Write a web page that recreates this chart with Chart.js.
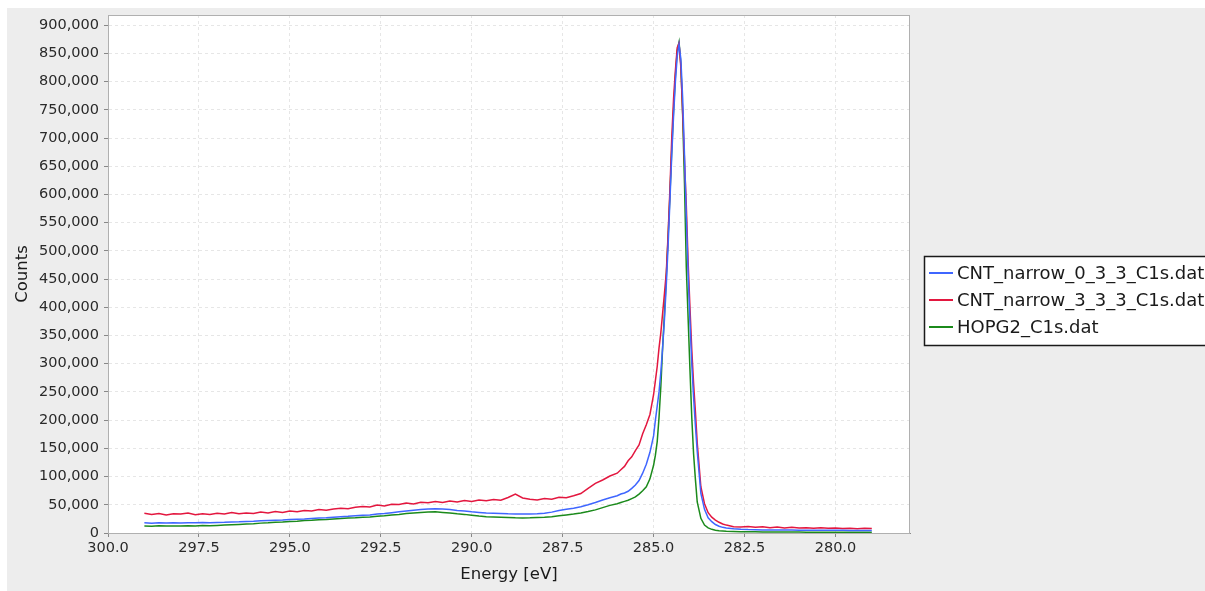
<!DOCTYPE html>
<html>
<head>
<meta charset="utf-8">
<script src="https://cdn.jsdelivr.net/npm/chart.js@4.4.1/dist/chart.umd.min.js"></script>
<style>
  html, body { margin: 0; padding: 0; background: #fff; overflow: hidden; }
  #wrap { width: 1205px; height: 591px; }
</style>
</head>
<body>
<div id="wrap"><canvas id="xpsChart" width="1205" height="591"></canvas></div>
<script>
// binding energy grid (eV), finer around the C1s peak
const energies = [
  299.0, 298.8, 298.6, 298.4, 298.2, 298.0, 297.8, 297.6, 297.4, 297.2,
  297.0, 296.8, 296.6, 296.4, 296.2, 296.0, 295.8, 295.6, 295.4, 295.2,
  295.0, 294.8, 294.6, 294.4, 294.2, 294.0, 293.8, 293.6, 293.4, 293.2,
  293.0, 292.8, 292.6, 292.4, 292.2, 292.0, 291.8, 291.6, 291.4, 291.2,
  291.0, 290.8, 290.6, 290.4, 290.2, 290.0, 289.8, 289.6, 289.4, 289.2,
  289.0, 288.8, 288.6, 288.4, 288.2, 288.0, 287.8, 287.6, 287.4, 287.2,
  287.0, 286.8, 286.6, 286.4, 286.2,
  286.0, 285.9, 285.8, 285.7, 285.6, 285.5, 285.4, 285.3, 285.2, 285.1, 285.0,
  284.95, 284.9, 284.85, 284.8, 284.75, 284.7, 284.65, 284.6, 284.55, 284.5,
  284.45, 284.4, 284.35, 284.3, 284.25, 284.2, 284.15, 284.1, 284.05, 284.0,
  283.95, 283.9, 283.85,
  283.8, 283.7, 283.6, 283.5, 283.4, 283.3, 283.2, 283.1, 283.0,
  282.8, 282.6, 282.4, 282.2, 282.0, 281.8, 281.6, 281.4, 281.2, 281.0,
  280.8, 280.6, 280.4, 280.2, 280.0, 279.8, 279.6, 279.4, 279.2, 279.0
];

const cnt0Counts = [
  18000, 17500, 18200, 17800, 18000, 17600, 18300, 18000, 18500, 18200,
  18800, 19000, 19500, 19800, 20500, 20800, 21500, 22000, 22500, 23000,
  23800, 24500, 25000, 25800, 26500, 27000, 28000, 28800, 29500, 30500,
  31500, 32000, 33500, 34500, 36000, 37500, 39000, 40500, 41500, 42500,
  43000, 42500, 41500, 40000, 39000, 37500, 36500, 35500, 35000, 34500,
  34000, 33800, 33500, 33500, 34000, 35000, 37000, 40000, 42000, 44000,
  46500, 50000, 54000, 58500, 62500,
  66000, 69000, 71000, 74000, 79000, 85000, 93000, 106000, 122000, 143000, 172000,
  200000, 225000, 250000, 285000, 330000, 380000, 440000, 510000, 590000, 670000,
  740000, 800000, 845000, 866000, 840000, 770000, 670000, 560000, 460000, 375000,
  300000, 240000, 190000,
  145000, 70000, 42000, 27000, 20000, 15000, 12000, 10000, 9000,
  7500, 6500, 6000, 5800, 5500, 5500, 5300, 5200, 5200, 5000,
  5000, 4900, 4800, 4800, 4700, 4700, 4600, 4600, 4500, 4500
];

const cnt3Counts = [
  35000, 33000, 34500, 32000, 34000, 33500, 35500, 32500, 34000, 33000,
  35000, 33500, 36500, 34000, 35500, 34500, 37000, 35500, 38000, 36500,
  39000, 37500, 40000, 39000, 41500, 40500, 42500, 44000, 43000, 45500,
  47000, 46000, 49500, 48000, 51000, 50500, 53000, 51500, 54500, 53500,
  56000, 54000, 56500, 55000, 57500, 56000, 58500, 57000, 59500, 58000,
  63000, 69000, 62000, 60000, 58500, 61000, 60000, 63500, 62500, 66000,
  70000, 79000, 88000, 94000, 101000,
  106000, 112000, 118000, 128000, 135000, 146000, 156000, 176000, 192000, 210000, 245000,
  270000, 295000, 328000, 355000, 390000, 425000, 462000, 530000, 610000, 700000,
  770000, 820000, 860000, 868000, 825000, 745000, 660000, 580000, 480000, 400000,
  325000, 265000, 215000,
  160000, 82000, 52000, 36000, 28000, 23000, 19000, 16000, 14000,
  11000, 10500, 11500, 10000, 11000, 9500, 10500, 9000, 10000, 9000,
  9500, 8500, 9500, 8500, 9000, 8000, 8500, 7500, 8500, 8000
];

const hopgCounts = [
  12500, 12000, 12800, 12300, 12600, 12200, 13000, 12500, 13200, 12800,
  13500, 14000, 14500, 15200, 16000, 16500, 17500, 18000, 19000, 19500,
  20500, 21000, 22000, 22500, 23500, 24000, 25000, 25500, 26500, 27000,
  28000, 28500, 29500, 30500, 32000, 33000, 34500, 35500, 36500, 37000,
  37500, 36500, 35500, 34000, 33000, 31500, 30000, 29000, 28500, 28000,
  27500, 27000, 26800, 27000, 27500, 28000, 29000, 30500, 32000, 33500,
  35500, 38000, 41000, 45000, 49000,
  52000, 54000, 56000, 58000, 61000, 64000, 69000, 75000, 82000, 96000, 120000,
  138000, 162000, 205000, 260000, 330000, 390000, 455000, 525000, 600000, 680000,
  750000, 810000, 855000, 870000, 830000, 740000, 620000, 470000, 380000, 290000,
  205000, 140000, 95000,
  55000, 26000, 14000, 9000, 6500, 5000, 4000, 3500, 3000,
  2500, 2200, 2000, 2000, 1800, 1800, 1700, 1700, 1600, 1600,
  1500, 1500, 1500, 1400, 1400, 1400, 1300, 1300, 1300, 1200
];

const seriesNames = ['CNT_narrow_0_3_3_C1s.dat', 'CNT_narrow_3_3_3_C1s.dat', 'HOPG2_C1s.dat'];
const seriesColors = ['#3f66ff', '#e3173f', '#1b8a1b'];
const xTicks = [300.0, 297.5, 295.0, 292.5, 290.0, 287.5, 285.0, 282.5, 280.0];
const yTicks = [0, 50000, 100000, 150000, 200000, 250000, 300000, 350000, 400000, 450000,
  500000, 550000, 600000, 650000, 700000, 750000, 800000, 850000, 900000];

const toPoints = vals => energies.map((e, i) => ({ x: e, y: vals[i] }));

const FONT = 'DejaVu Sans';

// grey frame + white plot background
const backdrop = {
  id: 'backdrop',
  beforeDraw(chart) {
    const { ctx, chartArea: a, width, height } = chart;
    ctx.save();
    ctx.fillStyle = '#ffffff';
    ctx.fillRect(0, 0, width, height);
    ctx.fillStyle = '#ededed';
    ctx.fillRect(7, 8, width - 7, height - 8);
    ctx.fillStyle = '#ffffff';
    ctx.fillRect(a.left, a.top, a.right - a.left, a.bottom - a.top);
    ctx.restore();
  },
  afterDraw(chart) {
    const { ctx, chartArea: a } = chart;
    ctx.save();
    ctx.strokeStyle = '#b0b0b0';
    ctx.lineWidth = 1;
    ctx.strokeRect(a.left + 0.5, a.top + 0.5, a.right - a.left - 1, a.bottom - a.top);
    ctx.restore();
  }
};

// boxed legend to the right of the plot, as in the original
const boxLegend = {
  id: 'boxLegend',
  afterDraw(chart) {
    const { ctx } = chart;
    const x0 = 924, y0 = 256, rowH = 27;
    ctx.save();
    ctx.fillStyle = '#ffffff';
    ctx.fillRect(x0, y0, 300, 89);
    ctx.strokeStyle = '#1a1a1a';
    ctx.lineWidth = 1.5;
    ctx.strokeRect(x0 + 0.5, y0 + 0.5, 300, 89);
    ctx.font = '18px "' + FONT + '"';
    ctx.textBaseline = 'middle';
    chart.data.datasets.forEach((ds, i) => {
      const y = y0 + 17 + i * rowH;
      ctx.strokeStyle = ds.borderColor;
      ctx.lineWidth = 2;
      ctx.beginPath();
      ctx.moveTo(x0 + 5, y);
      ctx.lineTo(x0 + 29, y);
      ctx.stroke();
      ctx.fillStyle = '#1a1a1a';
      ctx.fillText(ds.label, x0 + 33, y + 1);
    });
    ctx.restore();
  }
};

const ctx = document.getElementById('xpsChart').getContext('2d');
const chart = new Chart(ctx, {
  type: 'line',
  data: {
    datasets: [
      { label: seriesNames[0], data: toPoints(cnt0Counts), borderColor: seriesColors[0] },
      { label: seriesNames[1], data: toPoints(cnt3Counts), borderColor: seriesColors[1] },
      { label: seriesNames[2], data: toPoints(hopgCounts), borderColor: seriesColors[2] }
    ]
  },
  options: {
    responsive: false,
    animation: false,
    layout: { padding: { left: 0, top: 15, right: 295, bottom: 0 } },
    elements: {
      point: { radius: 0 },
      line: { borderWidth: 1.5, tension: 0 }
    },
    plugins: {
      legend: { display: false },
      tooltip: { enabled: false }
    },
    scales: {
      x: {
        type: 'linear',
        reverse: true,
        min: 277.95,
        max: 300,
        afterBuildTicks: s => { s.ticks = xTicks.map(v => ({ value: v })); },
        afterFit: s => { s.height = 58; },
        ticks: {
          font: { family: FONT, size: 14.5 },
          color: '#2a2a2a',
          padding: 3,
          maxRotation: 0,
          autoSkip: false,
          callback: v => Number(v).toFixed(1)
        },
        grid: {
          color: '#e6e6e6',
          tickColor: '#888',
          tickLength: 4
        },
        border: { color: '#8a8a8a', dash: [3, 3] },
        title: {
          display: true,
          text: 'Energy [eV]',
          font: { family: FONT, size: 16.5 },
          color: '#1a1a1a',
          padding: { top: 2, bottom: 6 }
        }
      },
      y: {
        type: 'linear',
        min: 0,
        max: 918000,
        afterBuildTicks: s => { s.ticks = yTicks.map(v => ({ value: v })); },
        afterFit: s => { s.width = 108; },
        ticks: {
          font: { family: FONT, size: 14.5 },
          color: '#2a2a2a',
          padding: 5,
          autoSkip: false,
          callback: v => Number(v).toLocaleString('en-US')
        },
        grid: {
          color: '#e6e6e6',
          tickColor: '#888',
          tickLength: 4
        },
        border: { color: '#8a8a8a', dash: [3, 3] },
        title: {
          display: true,
          text: 'Counts',
          font: { family: FONT, size: 16.5 },
          color: '#1a1a1a',
          padding: { top: 13, bottom: 2 }
        }
      }
    }
  },
  plugins: [backdrop, boxLegend]
});
</script>
</body>
</html>
